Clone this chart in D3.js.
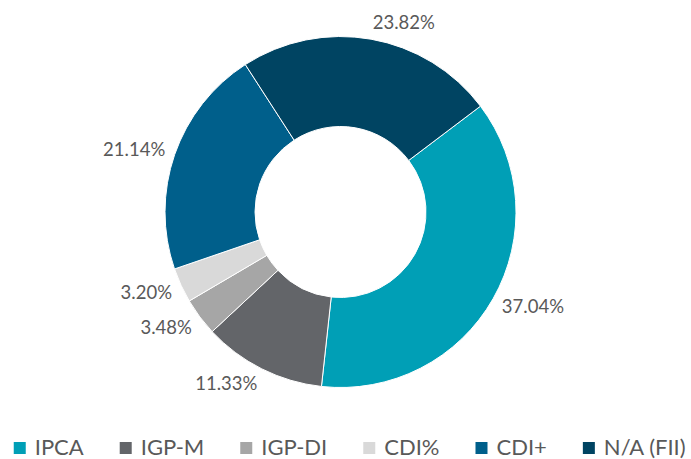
<!DOCTYPE html>
<html>
<head>
<meta charset="utf-8">
<script src="https://cdn.jsdelivr.net/npm/d3@7"></script>
<style>
  html, body { margin: 0; padding: 0; background: #fff; }
  svg { display: block; }
  text { font-family: Lato, "Noto Sans", sans-serif; fill: #595959; }
</style>
</head>
<body>
<svg id="chart" width="691" height="459"></svg>
<script>
// ---- data ----
const categories = ["IPCA", "IGP-M", "IGP-DI", "CDI%", "CDI+", "N/A (FII)"];
const shares = [37.04, 11.33, 3.48, 3.20, 21.14, 23.82];
const valueLabels = ["37.04%", "11.33%", "3.48%", "3.20%", "21.14%", "23.82%"];
const colors = ["#009fb6", "#636569", "#a6a6a6", "#d9d9d9", "#005f8b", "#004462"];

// ---- layout ----
const W = 691, H = 459;
const cx = 340.5, cy = 212;
const outerR = 175.5, innerR = 85.5;
const startDeg = 52.9;
const labelGap = 10;
const labelFont = 18.5;
const capH = 0.72 * labelFont;

const svg = d3.select("#chart");
const data = categories.map((c, i) => ({ cat: c, value: shares[i], label: valueLabels[i], color: colors[i] }));

const start = startDeg * Math.PI / 180;
const pie = d3.pie().sort(null).value(d => d.value).startAngle(start).endAngle(start + 2 * Math.PI);
const arc = d3.arc().innerRadius(innerR).outerRadius(outerR);
const arcs = pie(data);

const g = svg.append("g").attr("transform", `translate(${cx},${cy})`);
g.selectAll("path.slice").data(arcs).enter().append("path")
  .attr("class", "slice")
  .attr("d", arc)
  .attr("fill", d => d.data.color)
  .attr("stroke", "#ffffff")
  .attr("stroke-width", 1);

// data labels, outside end: anchored at a point just beyond the rim,
// text box extends horizontally away from the chart
g.selectAll("text.lbl").data(arcs).enter().append("text")
  .attr("class", "lbl")
  .attr("text-anchor", "middle")
  .style("font-size", labelFont + "px")
  .text(d => d.data.label)
  .each(function(d) {
    const w = this.getComputedTextLength();
    const a = (d.startAngle + d.endAngle) / 2;
    const s = Math.sin(a), c = -Math.cos(a);
    const rho = outerR + labelGap;
    const x = rho * s + Math.sign(s) * w / 2;
    const y = rho * c + c * capH / 2;
    d3.select(this).attr("x", x).attr("y", y + capH / 2);
  });

// legend
const legendFont = 22;
const sq = 12, sqGap = 9, itemGap = 36;
const lg = svg.append("g");
const items = lg.selectAll("g.item").data(data).enter().append("g").attr("class", "item");
items.append("rect").attr("width", sq).attr("height", sq).attr("y", 442).attr("fill", d => d.color);
items.append("text").style("font-size", legendFont + "px").attr("y", 455).text(d => d.cat);
let xpos = 0;
items.each(function() {
  const t = d3.select(this).select("text");
  const w = t.node().getComputedTextLength();
  d3.select(this).select("rect").attr("x", xpos);
  t.attr("x", xpos + sq + sqGap);
  xpos += sq + sqGap + w + itemGap;
});
const total = xpos - itemGap;
lg.attr("transform", `translate(${349.7 - total / 2},0)`);
</script>
</body>
</html>
